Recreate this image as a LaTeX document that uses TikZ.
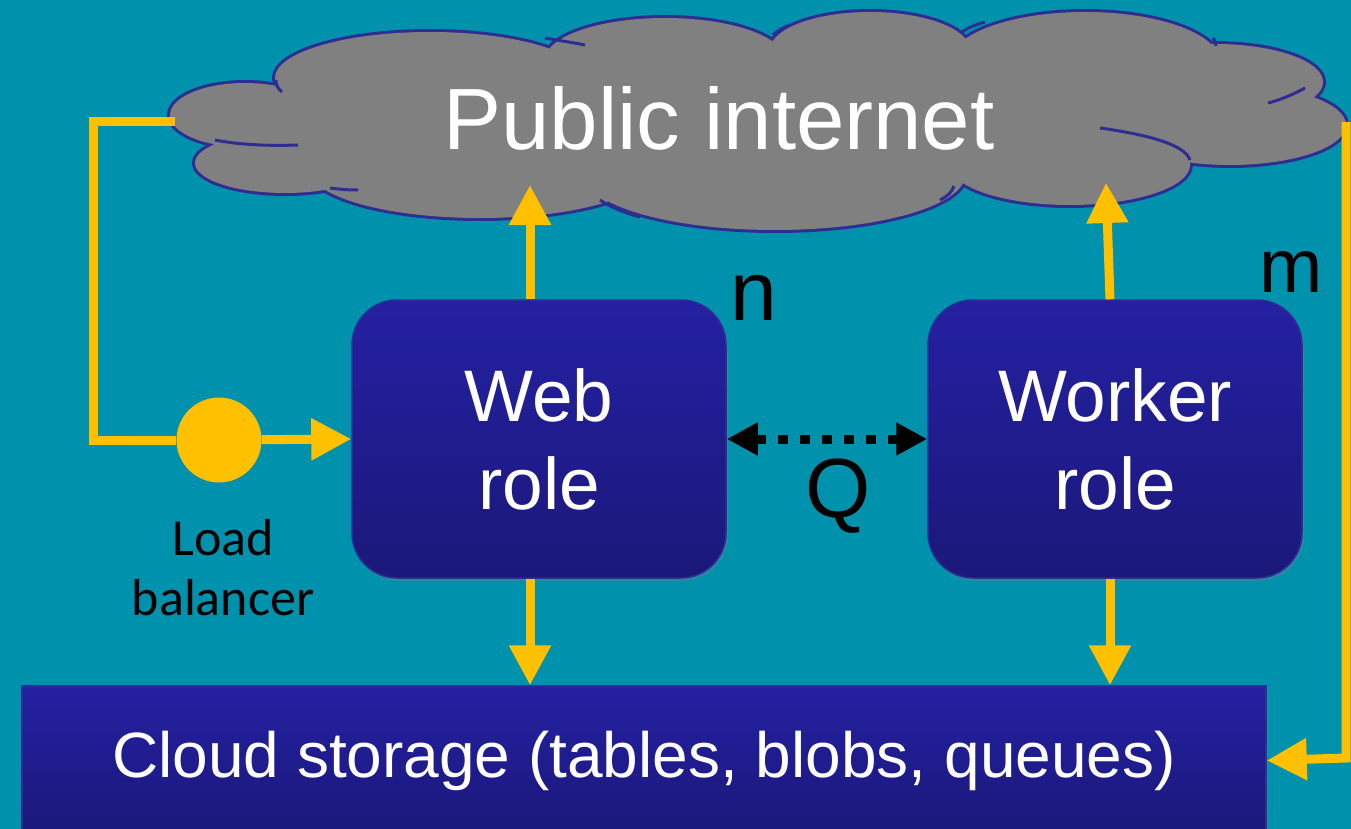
\documentclass[tikz,border=0pt]{standalone}
\usepackage{fontspec}
\setmainfont{Liberation Sans}
\newfontfamily\calibfont{Carlito}
\usetikzlibrary{arrows.meta,shadows}
\definecolor{bgteal}{RGB}{0,145,173}
\definecolor{cloudgray}{RGB}{128,128,128}
\definecolor{cloudline}{RGB}{46,46,146}
\definecolor{boxtop}{RGB}{36,32,162}
\definecolor{boxbot}{RGB}{27,24,122}
\definecolor{boxline}{RGB}{48,44,150}
\definecolor{ygold}{RGB}{255,192,0}
\newcommand{\myfs}[2]{\fontsize{#1}{#2}\selectfont}
\begin{document}
\begin{tikzpicture}[x=1pt,y=-1pt,
  rolebox/.style={rectangle, rounded corners=45pt, minimum width=374pt, minimum height=278pt,
    inner sep=0pt, top color=boxtop, bottom color=boxbot, draw=boxline, line width=1.5pt,
    text=white, align=center, font=\myfs{73}{88},
    drop shadow={opacity=0.3, shadow xshift=2pt, shadow yshift=-3pt}},
  storebox/.style={rectangle, minimum width=1244pt, minimum height=149pt, inner sep=0pt,
    top color=boxtop, bottom color=boxbot, draw=boxline, line width=1.5pt,
    text=white, font=\myfs{64}{77},
    drop shadow={opacity=0.3, shadow xshift=2pt, shadow yshift=-3pt}},
  yline/.style={draw=ygold, line width=9pt},
  yarr/.style={yline, -{Triangle[length=40pt,width=40pt]}},
  qarr/.style={draw=black, line width=9pt, dash pattern=on 10pt off 12pt,
    {Triangle[length=31pt,width=31pt]}-{Triangle[length=31pt,width=31pt]}},
  hook/.style={draw=cloudline, line width=3pt},
  biglabel/.style={text=black, font=\myfs{84}{100}, inner sep=0pt}
]
\useasboundingbox (0,0) rectangle (1351,829);
\clip (0,0) rectangle (1351,829);
\fill[bgteal] (0,0) rectangle (1351,829);

% cloud
\path[draw=cloudline, line width=6pt]
  (245,115) ellipse [x radius=75pt, y radius=32pt]
  (285,163) ellipse [x radius=90pt, y radius=30pt]
  (430,78) ellipse [x radius=155pt, y radius=46pt]
  (665,60) ellipse [x radius=120pt, y radius=42pt]
  (870,50) ellipse [x radius=100pt, y radius=38pt]
  (1085,62) ellipse [x radius=135pt, y radius=50pt]
  (1215,82) ellipse [x radius=108pt, y radius=38pt]
  (1230,125) ellipse [x radius=116pt, y radius=40pt]
  (1070,165) ellipse [x radius=120pt, y radius=40pt]
  (775,175) ellipse [x radius=190pt, y radius=55pt]
  (480,170) ellipse [x radius=170pt, y radius=48pt];
\path[fill=cloudgray]
  (245,115) ellipse [x radius=75pt, y radius=32pt]
  (285,163) ellipse [x radius=90pt, y radius=30pt]
  (430,78) ellipse [x radius=155pt, y radius=46pt]
  (665,60) ellipse [x radius=120pt, y radius=42pt]
  (870,50) ellipse [x radius=100pt, y radius=38pt]
  (1085,62) ellipse [x radius=135pt, y radius=50pt]
  (1215,82) ellipse [x radius=108pt, y radius=38pt]
  (1230,125) ellipse [x radius=116pt, y radius=40pt]
  (1070,165) ellipse [x radius=120pt, y radius=40pt]
  (775,175) ellipse [x radius=190pt, y radius=55pt]
  (480,170) ellipse [x radius=170pt, y radius=48pt];
\fill[cloudgray] (230,120) -- (300,80) -- (450,50) -- (560,55) -- (660,35) -- (770,60)
  -- (870,30) -- (960,55) -- (1090,30) -- (1200,60) -- (1300,110) -- (1190,150)
  -- (1080,190) -- (955,175) -- (780,215) -- (620,190) -- (480,205) -- (300,170) -- cycle;
% inner hooks of the cloud
\draw[hook] (215,140) .. controls (240,145) and (270,146) .. (298,145);
\draw[hook] (276,80) .. controls (276,85) and (278,89) .. (282,92);
\draw[hook] (545,38) .. controls (562,41) and (575,43) .. (585,45);
\draw[hook] (790,25) .. controls (782,28) and (776,32) .. (773,35);
\draw[hook] (985,22) .. controls (975,25) and (967,28) .. (962,32);
\draw[hook] (1213,38) .. controls (1215,40) and (1216,43) .. (1216,46);
\draw[hook] (1305,88) .. controls (1292,95) and (1280,100) .. (1268,103);
\draw[hook] (1190,160) .. controls (1185,145) and (1150,135) .. (1100,128);
\draw[hook] (940,200) .. controls (948,196) and (952,192) .. (954,186);
\draw[hook] (600,200) .. controls (610,207) and (625,213) .. (640,217);
\draw[hook] (330,188) .. controls (345,190) and (352,190) .. (358,190);

\node[text=white, font=\myfs{87}{100}, inner sep=0pt] (cloud) at (719,118) {Public internet};
\coordinate (cl) at (175,122);
\coordinate (cr) at (1346,122);
\coordinate (wt) at (530,185);
\coordinate (kt) at (1106,183);
\coordinate (c1) at (93,122);
\coordinate (c2) at (1346,758);

% boxes
\node[rolebox] (web) at (539,439) {Web\\role};
\node[rolebox] (worker) at (1115,439) {Worker\\role};
\node[storebox] (storage) at (644,760.5) {Cloud storage (tables, blobs, queues)};

% load balancer
\node[circle, fill=ygold, minimum size=85pt, inner sep=0pt] (lb) at (219,440) {};
\node[text=black, font=\calibfont\myfs{52}{60}, align=center, inner sep=0pt] (lbl) at (223,568) {Load\\balancer};

% labels
\node[biglabel] (n) at (754,298) {n};
\node[biglabel, font=\myfs{76}{90}] (m) at (1291,272) {m};
\node[biglabel] (q) at (838,496) {Q};

% connectors
\draw[yline] (cl) -- (c1) |- (lb);
\draw[yarr] (lb) -- (web.west);
\draw[yarr] ([xshift=-9pt]web.north) -- (wt);
\draw[yarr] ([xshift=-5pt]worker.north) -- (kt);
\draw[yarr] ([xshift=-9pt]web.south) -- ([xshift=-9pt]web.south |- storage.north);
\draw[yarr] ([xshift=-5pt]worker.south) -- ([xshift=-5pt]worker.south |- storage.north);
\draw[yarr] (cr) -- (c2) -- (storage.east);
\draw[qarr] (web.east) -- (worker.west);
\end{tikzpicture}
\end{document}
